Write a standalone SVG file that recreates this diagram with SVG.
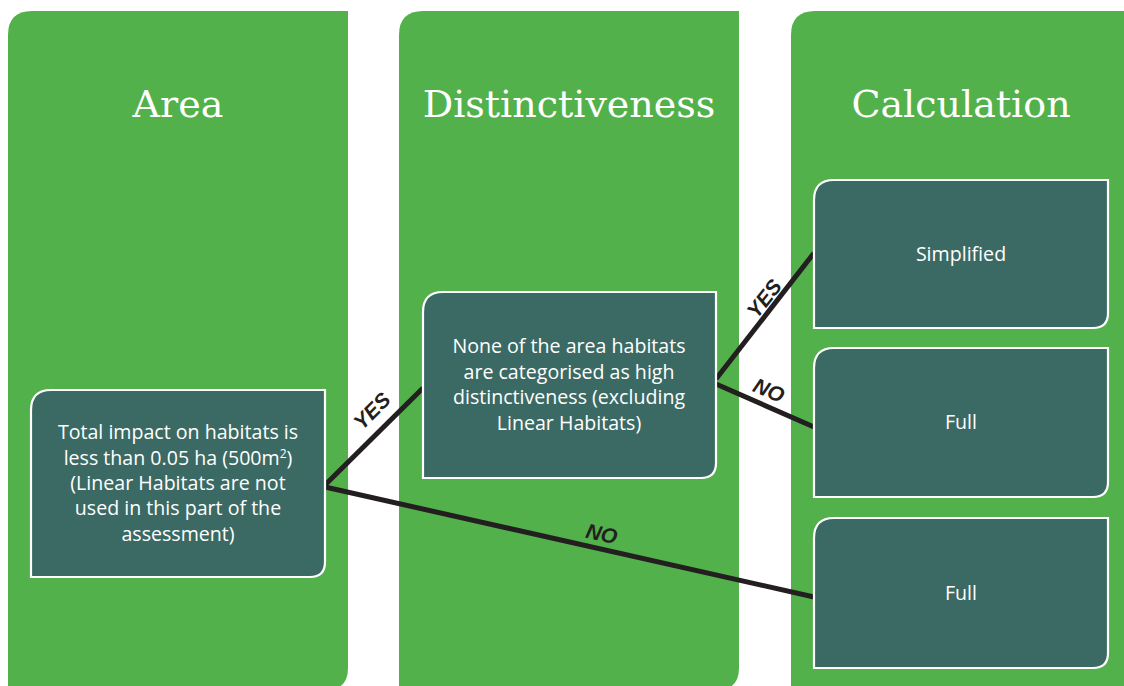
<svg xmlns="http://www.w3.org/2000/svg" width="1124" height="686" viewBox="0 0 1124 686">
<style>
.col{fill:#52b14a;}
.title{font-family:"DejaVu Serif","Liberation Serif",serif;font-size:38px;fill:#ffffff;text-anchor:middle;}
.box{fill:#3b6a64;stroke:#ffffff;stroke-width:2.2;}
.txt{font-family:"Open Sans","Liberation Sans",sans-serif;font-size:19.6px;fill:#ffffff;text-anchor:middle;}
.conn{stroke:#231f20;stroke-width:5;fill:none;}
.lbl{font-family:"Liberation Sans","Open Sans",sans-serif;font-size:21px;font-weight:bold;font-style:italic;fill:#231f20;text-anchor:middle;}
</style>
<rect width="1124" height="686" fill="#ffffff"/>
<g id="col-area">
<path class="col" d="M8 35 Q8 11 32 11 H348 V668 Q348 690 326 690 H8 Z"/>
<text class="title" x="178" y="117">Area</text>
</g>
<g id="col-distinctiveness">
<path class="col" d="M399 35 Q399 11 423 11 H739 V668 Q739 690 717 690 H399 Z"/>
<text class="title" x="569" y="117">Distinctiveness</text>
</g>
<g id="col-calculation">
<path class="col" d="M791 35 Q791 11 815 11 H1130 V690 H791 Z"/>
<text class="title" x="961" y="117">Calculation</text>
</g>
<g id="connectors">
<line class="conn" x1="325" y1="485" x2="423" y2="388"/>
<line class="conn" x1="325" y1="487" x2="814" y2="597"/>
<line class="conn" x1="716" y1="379" x2="814" y2="253"/>
<line class="conn" x1="716" y1="384" x2="814" y2="427"/>
<text class="lbl" transform="translate(377,416) rotate(-45)">YES</text>
<text class="lbl" transform="translate(600,541) rotate(12.7)">NO</text>
<text class="lbl" transform="translate(770,303) rotate(-52)">YES</text>
<text class="lbl" transform="translate(766,397) rotate(23.5)">NO</text>
</g>
<g id="node-area">
<path class="box" d="M31 410 Q31 390 51 390 H325 V562 Q325 577 310 577 H31 Z"/>
<text class="txt" x="178" y="439">Total impact on habitats is</text>
<text class="txt" x="178" y="465">less than 0.05 ha (500m<tspan font-size="12" dy="-7">2</tspan><tspan dy="7">)</tspan></text>
<text class="txt" x="178" y="490">(Linear Habitats are not</text>
<text class="txt" x="178" y="515">used in this part of the</text>
<text class="txt" x="178" y="541">assessment)</text>
</g>
<g id="node-distinctiveness">
<path class="box" d="M423 312 Q423 292 443 292 H716 V463 Q716 478 701 478 H423 Z"/>
<text class="txt" x="569" y="353">None of the area habitats</text>
<text class="txt" x="569" y="379">are categorised as high</text>
<text class="txt" x="569" y="404">distinctiveness (excluding</text>
<text class="txt" x="569" y="430">Linear Habitats)</text>
</g>
<g id="node-simplified">
<path class="box" d="M814 200 Q814 180 834 180 H1108 V313 Q1108 328 1093 328 H814 Z"/>
<text class="txt" x="961" y="261">Simplified</text>
</g>
<g id="node-full-1">
<path class="box" d="M814 368 Q814 348 834 348 H1108 V482 Q1108 497 1093 497 H814 Z"/>
<text class="txt" x="961" y="429">Full</text>
</g>
<g id="node-full-2">
<path class="box" d="M814 538 Q814 518 834 518 H1108 V653 Q1108 668 1093 668 H814 Z"/>
<text class="txt" x="961" y="600">Full</text>
</g>
</svg>
